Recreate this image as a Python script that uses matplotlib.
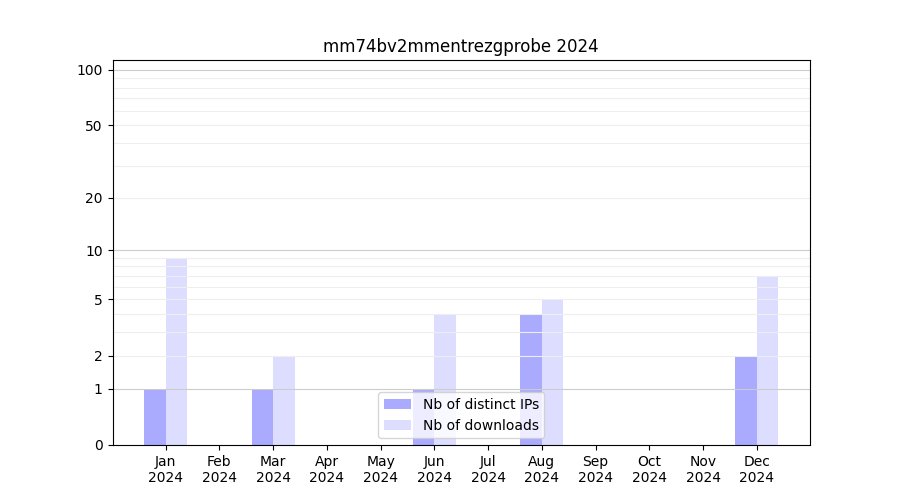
import numpy as np
import matplotlib
matplotlib.use("Agg")
import matplotlib.pyplot as plt

months = ["Jan", "Feb", "Mar", "Apr", "May", "Jun", "Jul", "Aug", "Sep", "Oct", "Nov", "Dec"]
year = "2024"
distinct_ips = [1, 0, 1, 0, 0, 1, 0, 4, 0, 0, 0, 2]
downloads = [9, 0, 2, 0, 0, 4, 0, 5, 0, 0, 0, 7]
yticks = [0, 1, 2, 5, 10, 20, 50, 100]
major_grid = [1, 10, 100]
minor_grid = [2, 3, 4, 5, 6, 7, 8, 9, 20, 30, 40, 50, 60, 70, 80, 90]

fig, ax = plt.subplots(figsize=(9, 5), dpi=100)
x = np.arange(len(months))
ax.set_yscale("function", functions=(lambda v: np.log10(1 + np.clip(v, -0.999, None)),
                                     lambda v: 10 ** v - 1))
ax.bar(x - 0.2, distinct_ips, width=0.4, color="#aaaaff", label="Nb of distinct IPs")
ax.bar(x + 0.2, downloads, width=0.4, color="#ddddff", label="Nb of downloads")

ax.set_ylim(0, 113)
ax.set_yticks(yticks)
ax.set_yticklabels([str(t) for t in yticks])
ax.yaxis.set_minor_locator(matplotlib.ticker.NullLocator())
for g in minor_grid:
    ax.axhline(g, color="#eeeeee", linewidth=0.8, zorder=1.5)
for g in major_grid:
    ax.axhline(g, color="#cccccc", linewidth=0.8, zorder=1.5)

ax.set_xticks(x)
ax.set_xticklabels([f"{m}\n{year}" for m in months])
ax.set_title("mm74bv2mmentrezgprobe 2024")
ax.legend(loc="lower center")
fig.savefig("out.png")
